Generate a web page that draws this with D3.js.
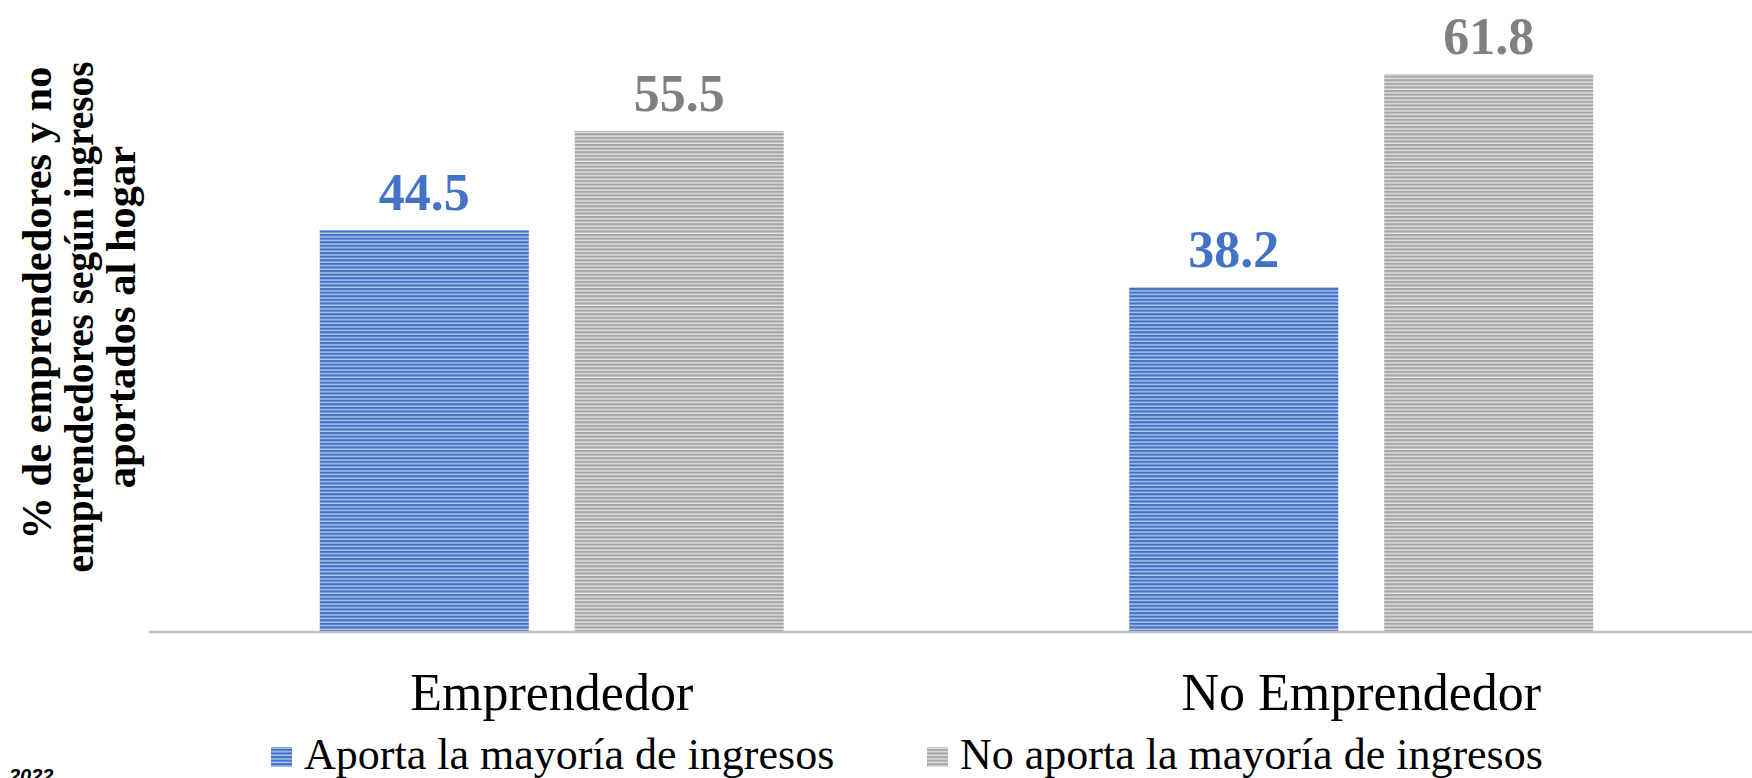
<!DOCTYPE html>
<html>
<head>
<meta charset="utf-8">
<script src="https://cdn.jsdelivr.net/npm/d3@7"></script>
<style>
  html, body { margin: 0; padding: 0; background: #ffffff; }
  svg { display: block; }
</style>
</head>
<body>
<svg id="chart" width="1752" height="778"></svg>
<script>
// ---- data ----
const categories = ["Emprendedor", "No Emprendedor"];
const seriesNames = ["Aporta la mayoría de ingresos", "No aporta la mayoría de ingresos"];
const aportaValues = [44.5, 38.2];
const noAportaValues = [55.5, 61.8];
const yTitleLines = ["% de emprendedores y no", "emprendedores según ingresos", "aportados al hogar"];
const footnote = "2022";

const seriesValues = [aportaValues, noAportaValues];
const seriesColors = [
  { dark: "#4472c4", light: "#b3c8ee", label: "#4472c4" },
  { dark: "#a6a6a6", light: "#e4e4e4", label: "#808080" }
];

const svg = d3.select("#chart");
const W = 1752, H = 778;

// patterns
const defs = svg.append("defs");
seriesColors.forEach((c, i) => {
  const p = defs.append("pattern")
    .attr("id", "pat" + i)
    .attr("patternUnits", "userSpaceOnUse")
    .attr("width", 8).attr("height", 3.6);
  p.append("rect").attr("width", 8).attr("height", 3.6).attr("fill", c.dark);
  p.append("rect").attr("y", 2.2).attr("width", 8).attr("height", 1.4).attr("fill", c.light);
});

// scales
const y = d3.scaleLinear().domain([0, 70]).range([632, 0]);
const x0 = d3.scaleBand().domain(categories).range([147, 1766])
  .paddingInner(0.4268).paddingOuter(0.2134);
const x1 = d3.scaleBand().domain(seriesNames).range([0, x0.bandwidth()])
  .paddingInner(0.18).paddingOuter(0);

// bars
const groups = svg.append("g").selectAll("g")
  .data(categories).join("g")
  .attr("transform", d => `translate(${x0(d)},0)`);

groups.selectAll("rect")
  .data((d, ci) => seriesNames.map((s, si) => ({ s, si, v: seriesValues[si][ci] })))
  .join("rect")
  .attr("x", d => x1(d.s))
  .attr("y", d => y(d.v))
  .attr("width", x1.bandwidth())
  .attr("height", d => y(0) - y(d.v))
  .attr("fill", d => `url(#pat${d.si})`);

groups.selectAll("text.val")
  .data((d, ci) => seriesNames.map((s, si) => ({ s, si, v: seriesValues[si][ci] })))
  .join("text")
  .attr("class", "val")
  .attr("x", d => x1(d.s) + x1.bandwidth() / 2)
  .attr("y", d => y(d.v) - 20)
  .attr("text-anchor", "middle")
  .attr("font-family", "'Liberation Serif', 'Times New Roman', serif")
  .attr("font-weight", "bold")
  .attr("font-size", 52)
  .attr("fill", d => seriesColors[d.si].label)
  .text(d => d3.format(".1f")(d.v));

// x axis
const xAxis = d3.axisBottom(x0).tickSize(0).tickPadding(0);
const axG = svg.append("g").attr("transform", `translate(0,${y(0)})`).call(xAxis);
axG.select(".domain").attr("d", `M149,0H${W}`).attr("stroke", "#bfbfbf").attr("stroke-width", 2.5);
axG.selectAll(".tick text")
  .attr("y", 78)
  .attr("dy", 0)
  .attr("font-family", "'Liberation Serif', 'Times New Roman', serif")
  .attr("font-size", 52)
  .attr("fill", "#000");

// y title (three lines, each centred on its own)
const yTitleBaselines = [51, 93, 135];
const yTitleCentres = [303, 317, 317];
yTitleLines.forEach((t, i) => {
  const tx = svg.append("text")
    .attr("transform", `translate(${yTitleBaselines[i]},${yTitleCentres[i]}) rotate(-90)`)
    .attr("text-anchor", "middle")
    .attr("font-family", "'Liberation Serif', 'Times New Roman', serif")
    .attr("font-weight", "bold")
    .attr("font-size", 42.5)
    .attr("fill", "#000")
    .text(t);
  if (i === 1) tx.attr("textLength", 511).attr("lengthAdjust", "spacingAndGlyphs");
});

// legend
const legendX = [271, 927];
const leg = svg.append("g");
seriesNames.forEach((s, i) => {
  leg.append("rect")
    .attr("x", legendX[i]).attr("y", 747)
    .attr("width", 21).attr("height", 20)
    .attr("fill", `url(#pat${i})`);
  leg.append("text")
    .attr("x", legendX[i] + 33).attr("y", 769)
    .attr("font-family", "'Liberation Serif', 'Times New Roman', serif")
    .attr("font-size", 44)
    .attr("fill", "#000")
    .text(s);
});

// footnote (cut by the bottom edge, as in the reference)
svg.append("text")
  .attr("x", 9).attr("y", 783)
  .attr("font-family", "'Liberation Sans', Arial, sans-serif")
  .attr("font-weight", "bold").attr("font-style", "italic")
  .attr("font-size", 20).attr("fill", "#000")
  .text(footnote);
</script>
</body>
</html>
